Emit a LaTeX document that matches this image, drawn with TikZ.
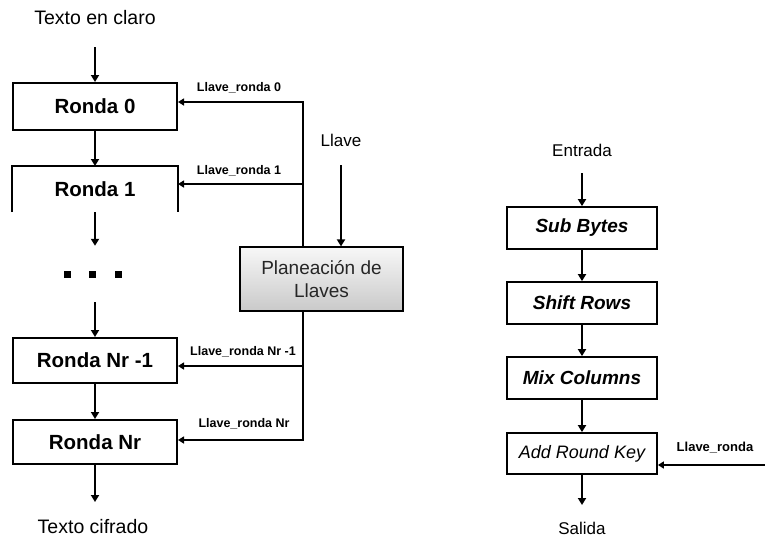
\documentclass[tikz,border=0pt]{standalone}
\usepackage{fontspec}
\setmainfont{Liberation Sans}
\usetikzlibrary{arrows.meta}
\begin{document}
\begin{tikzpicture}[x=1pt,y=-1pt,
  arr/.style={line width=2pt,-{Triangle[length=7pt,width=8pt]}},
  keyarr/.style={line width=1.8pt,-{Triangle[length=6pt,width=7pt]}},
  ronda/.style={draw,line width=2pt,minimum width=164pt,inner sep=0pt,font=\fontsize{20.5}{22}\selectfont\bfseries},
  stepbox/.style={draw,line width=1.8pt,minimum width=150pt,inner sep=0pt,font=\fontsize{19}{22}\selectfont\bfseries\itshape},
  plain/.style={inner sep=0pt,font=\fontsize{17}{20}\selectfont},
  bigplain/.style={inner sep=0pt,font=\fontsize{19.5}{22}\selectfont},
  lbl/.style={inner sep=0pt,font=\fontsize{12.5}{14}\selectfont\bfseries}]
\useasboundingbox (0,0) rectangle (765,539);

% left column
\node[bigplain] (claro) at (95,18) {Texto en claro};
\coordinate (claroEnd) at (95,47);
\node[ronda,minimum height=47pt] (r0) at (95,106.5) {Ronda 0};
\node[ronda,draw=none,minimum height=44pt] (r1) at (95,189) {Ronda 1};
\draw[line width=2pt] (r1.south west) -- (r1.north west) -- (r1.north east) -- (r1.south east);
\node[minimum width=60pt,minimum height=56pt,inner sep=0pt] (dots) at (95,274) {};
\foreach \dx in {-28,-3,23} \fill ([xshift=\dx pt]dots.center) ++(-3.5,-3.5) rectangle ++(7,7);
\node[ronda,minimum height=45pt] (rn1) at (95,360.5) {Ronda Nr -1};
\node[ronda,minimum height=44pt] (rn) at (95,442) {Ronda Nr};
\node[bigplain] (cifrado) at (93,527) {Texto cifrado};
\coordinate (cifEnd) at (95,502);

\draw[arr] (claroEnd) -- (r0.north);
\draw[arr] (r0.south) -- (r1.north);
\draw[arr] (r1.south) -- (dots.north);
\draw[arr] (dots.south) -- (rn1.north);
\draw[arr] (rn1.south) -- (rn.north);
\draw[arr] (rn.south) -- (cifEnd);

% key schedule
\node[draw,line width=1.2pt,minimum width=163pt,minimum height=64pt,inner sep=0pt,
  top color=gray!6,bottom color=gray!42,align=center,
  font=\fontsize{19}{23}\selectfont,text=black!85] (plan) at (321.5,279) {Planeación de\\Llaves};
\node[plain] (llave) at (341,140) {Llave};
\coordinate (llaveEnd) at (341,165);
\draw[arr] (llaveEnd) -- (llave.south |- plan.north);

\coordinate (k0) at (303,102);
\coordinate (k1) at (303,184);
\coordinate (k2) at (303,366);
\coordinate (k3) at (303,440);
\draw[keyarr] (plan.north -| k0) -- (k0) -- (r0.east |- k0);
\draw[keyarr] (k1) -- (r1.east |- k1);
\draw[keyarr] (plan.south -| k0) -- (k3) -- (rn.east |- k3);
\draw[keyarr] (k2) -- (rn1.east |- k2);

\node[lbl] (l0) at (239,88) {Llave\_ronda 0};
\node[lbl] (l1) at (239,171) {Llave\_ronda 1};
\node[lbl] (l2) at (243,352) {Llave\_ronda Nr -1};
\node[lbl] (l3) at (244,424) {Llave\_ronda Nr};

% right column
\node[plain] (entrada) at (582,150) {Entrada};
\coordinate (entEnd) at (582,173);
\node[stepbox,minimum height=42pt] (sb) at (582,228) {Sub Bytes};
\node[stepbox,minimum height=42pt] (sr) at (582,303) {Shift Rows};
\node[stepbox,minimum height=42pt] (mc) at (582,378) {Mix Columns};
\node[stepbox,minimum height=41pt,font=\fontsize{18}{20}\selectfont\itshape] (ark) at (582,453.5) {Add Round Key};
\node[plain] (salida) at (582,528) {Salida};
\coordinate (salEnd) at (582,505);
\draw[arr] (entEnd) -- (sb.north);
\draw[arr] (sb.south) -- (sr.north);
\draw[arr] (sr.south) -- (mc.north);
\draw[arr] (mc.south) -- (ark.north);
\draw[arr] (ark.south) -- (salEnd);
\coordinate (kr) at (765,465);
\draw[keyarr] (kr) -- (ark.east |- kr);
\node[lbl,font=\fontsize{13}{15}\selectfont\bfseries] (lr) at (715,448) {Llave\_ronda};
\end{tikzpicture}
\end{document}
